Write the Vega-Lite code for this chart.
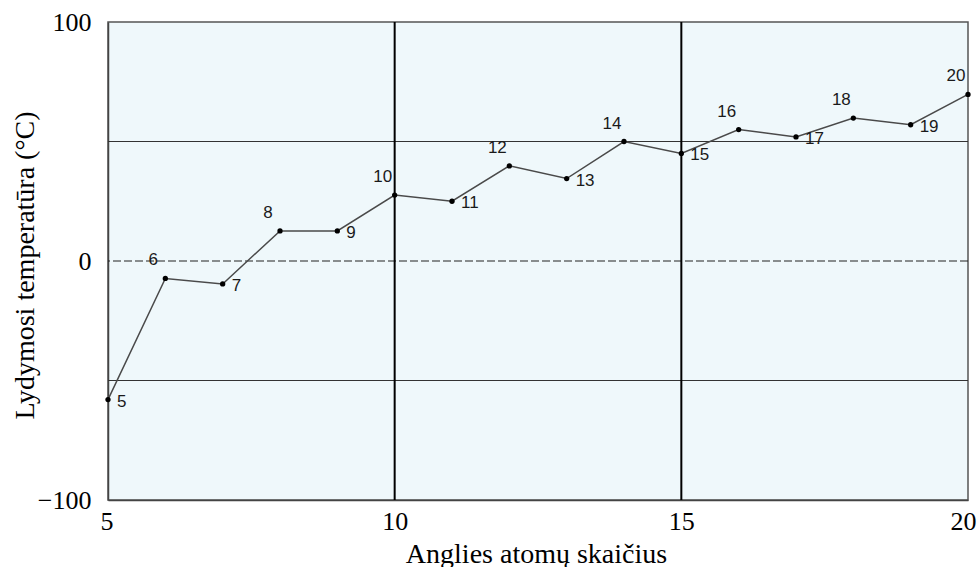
{
  "$schema": "https://vega.github.io/schema/vega-lite/v6.json",
  "width": 860,
  "height": 478,
  "autosize": {"type": "none"},
  "padding": {"left": 108, "top": 22, "right": 10, "bottom": 67},
  "background": "white",
  "config": {
    "view": {"fill": "#eff8fb", "stroke": "#555555", "strokeWidth": 1.5},
    "axis": {"grid": false, "ticks": false, "domainColor": "#444444", "domainWidth": 1.5}
  },
  "datasets": {
    "pts": [
      {"n": 5, "t": -58},
      {"n": 6, "t": -7.3},
      {"n": 7, "t": -9.6},
      {"n": 8, "t": 12.6},
      {"n": 9, "t": 12.6},
      {"n": 10, "t": 27.6},
      {"n": 11, "t": 25},
      {"n": 12, "t": 39.8},
      {"n": 13, "t": 34.5},
      {"n": 14, "t": 50},
      {"n": 15, "t": 45},
      {"n": 16, "t": 55},
      {"n": 17, "t": 51.9},
      {"n": 18, "t": 59.8},
      {"n": 19, "t": 57},
      {"n": 20, "t": 69.7}
    ],
    "hgrid": [{"y": 50}, {"y": -50}],
    "zero": [{"y": 0}],
    "vgrid": [{"x": 10}, {"x": 15}]
  },
  "layer": [
    {
      "data": {"name": "hgrid"},
      "mark": {"type": "rule", "color": "#333333", "strokeWidth": 1},
      "encoding": {"y": {"field": "y", "type": "quantitative", "scale": {"domain": [-100, 100], "nice": false}}}
    },
    {
      "data": {"name": "zero"},
      "mark": {"type": "rule", "color": "#222222", "strokeWidth": 1.2, "strokeDash": [8, 3]},
      "encoding": {"y": {"field": "y", "type": "quantitative"}}
    },
    {
      "data": {"name": "vgrid"},
      "mark": {"type": "rule", "color": "#000000", "strokeWidth": 2},
      "encoding": {"x": {"field": "x", "type": "quantitative", "scale": {"domain": [5, 20], "nice": false}}}
    },
    {
      "data": {"name": "pts"},
      "mark": {"type": "line", "color": "#4a4a4a", "strokeWidth": 1.5, "clip": false,
               "point": {"filled": true, "color": "#000000", "size": 28}},
      "encoding": {
        "x": {"field": "n", "type": "quantitative",
              "scale": {"domain": [5, 20], "nice": false},
              "axis": {"values": [5, 10, 15, 20], "format": "d", "labelFont": "Liberation Serif", "labelFontSize": 26,
                       "labelColor": "#000000", "labelPadding": 8, "labelFlush": true, "labelFlushOffset": 8,
                       "title": "Anglies atomų skaičius", "titleFont": "Liberation Serif",
                       "titleFontSize": 28, "titleFontWeight": "normal", "titleColor": "#000000",
                       "titleX": 428, "titleY": 62, "titleBaseline": "alphabetic", "titleAlign": "center"}},
        "y": {"field": "t", "type": "quantitative",
              "scale": {"domain": [-100, 100], "nice": false},
              "axis": {"values": [-100, 0, 100], "format": "d", "labelFont": "Liberation Serif", "labelFontSize": 26,
                       "labelColor": "#000000", "labelPadding": 17,
                       "title": "Lydymosi temperatūra (°C)", "titleFont": "Liberation Serif",
                       "titleFontSize": 28, "titleFontWeight": "normal", "titleColor": "#000000",
                       "titleAngle": -90, "titleX": -75, "titleY": 243,
                       "titleBaseline": "alphabetic", "titleAlign": "center"}}
      }
    },
    {
      "data": {"name": "pts"},
      "transform": [{"filter": "datum.n % 2 == 1"}],
      "mark": {"type": "text", "font": "Liberation Sans", "fontSize": 17, "color": "#1a1a1a",
               "align": "left", "baseline": "middle", "dx": 9, "dy": 2},
      "encoding": {
        "x": {"field": "n", "type": "quantitative"},
        "y": {"field": "t", "type": "quantitative"},
        "text": {"field": "n", "type": "nominal"}
      }
    },
    {
      "data": {"name": "pts"},
      "transform": [{"filter": "datum.n % 2 == 0"}],
      "mark": {"type": "text", "font": "Liberation Sans", "fontSize": 17, "color": "#1a1a1a",
               "align": "center", "baseline": "middle", "dx": -12, "dy": -18},
      "encoding": {
        "x": {"field": "n", "type": "quantitative"},
        "y": {"field": "t", "type": "quantitative"},
        "text": {"field": "n", "type": "nominal"}
      }
    }
  ]
}
